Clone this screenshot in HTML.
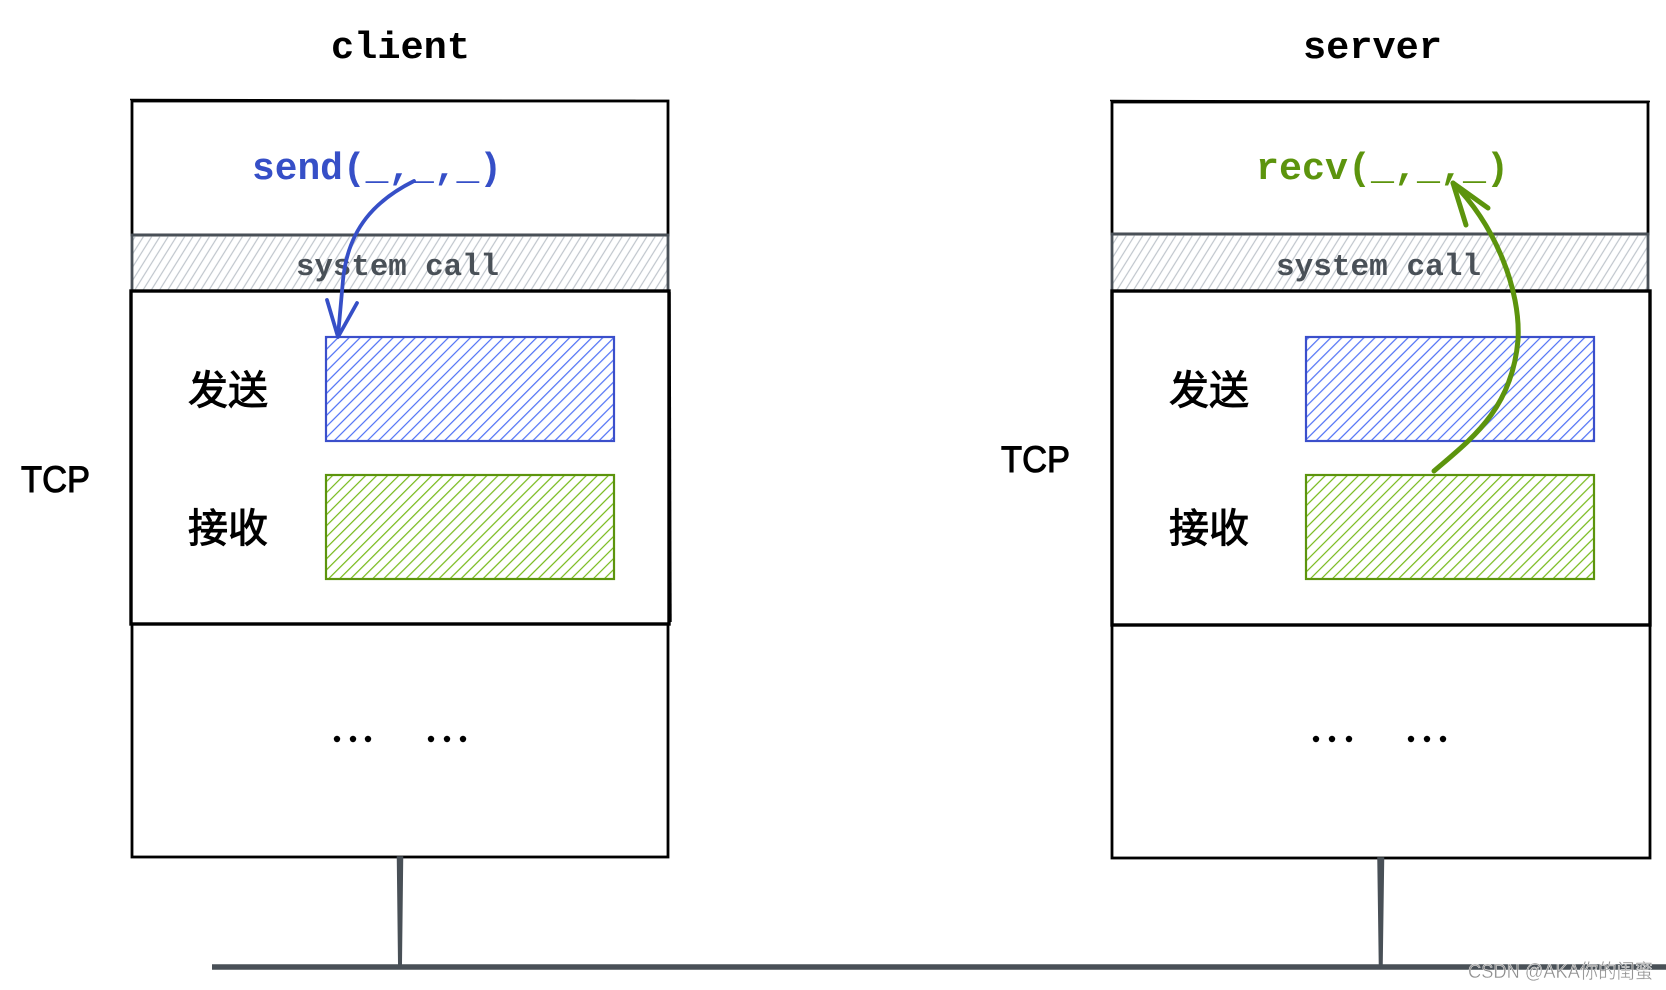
<!DOCTYPE html>
<html>
<head>
<meta charset="utf-8">
<style>
  html, body { margin: 0; padding: 0; background: #ffffff; }
  body { width: 1666px; height: 990px; overflow: hidden; }
  svg { display: block; }
  .mono { font-family: "Liberation Mono", "DejaVu Sans Mono", monospace; }
  .cjk { font-family: "Liberation Sans", "Noto Sans CJK SC", "WenQuanYi Zen Hei", sans-serif; }
</style>
</head>
<body>
<svg width="1666" height="990" viewBox="0 0 1666 990" xmlns="http://www.w3.org/2000/svg">
  <defs>
    <pattern id="blueHatch" patternUnits="userSpaceOnUse" width="7.8" height="10" patternTransform="rotate(45)">
      <line x1="2" y1="0" x2="2" y2="10" stroke="#4c6ef5" stroke-width="1.2"/>
    </pattern>
    <pattern id="greenHatch" patternUnits="userSpaceOnUse" width="7.8" height="10" patternTransform="rotate(45)">
      <line x1="2" y1="0" x2="2" y2="10" stroke="#74b816" stroke-width="1.2"/>
    </pattern>
    <pattern id="grayHatch" patternUnits="userSpaceOnUse" width="7" height="10" patternTransform="rotate(32)">
      <line x1="2" y1="0" x2="2" y2="10" stroke="#bfc5cc" stroke-width="1.2"/>
    </pattern>
  </defs>

  <rect x="0" y="0" width="1666" height="990" fill="#ffffff"/>

  <!-- Titles -->
  <text class="mono" x="331" y="58" font-size="38" font-weight="bold" fill="#000" textLength="139" lengthAdjust="spacingAndGlyphs">client</text>
  <text class="mono" x="1303" y="58" font-size="38" font-weight="bold" fill="#000" textLength="139" lengthAdjust="spacingAndGlyphs">server</text>

  <!-- ================= CLIENT ================= -->
  <rect x="132" y="101" width="536" height="134" fill="none" stroke="#000" stroke-width="2.8"/>
  <line x1="130" y1="99.5" x2="669" y2="100.5" stroke="#000" stroke-width="1.4"/>
  <rect x="132" y="235" width="536" height="56" fill="url(#grayHatch)" stroke="#495057" stroke-width="2.8"/>
  <text class="mono" x="296" y="275" font-size="31" font-weight="bold" fill="#495057" textLength="203" lengthAdjust="spacingAndGlyphs">system call</text>
  <rect x="131" y="291" width="538" height="333" fill="none" stroke="#000" stroke-width="3.4"/>
  <line x1="670" y1="292" x2="671" y2="622" stroke="#000" stroke-width="1.4"/>
  <rect x="132" y="624" width="536" height="233" fill="none" stroke="#000" stroke-width="2.8"/>

  <rect x="326" y="337" width="288" height="104" fill="url(#blueHatch)" stroke="#3b4fcb" stroke-width="2.2"/>
  <rect x="326" y="475" width="288" height="104" fill="url(#greenHatch)" stroke="#5c940d" stroke-width="2.2"/>

  <text class="cjk" x="188" y="404" font-size="40" fill="#000" stroke="#000" stroke-width="1" textLength="80" lengthAdjust="spacingAndGlyphs">发送</text>
  <text class="cjk" x="188" y="542" font-size="40" fill="#000" stroke="#000" stroke-width="1" textLength="80" lengthAdjust="spacingAndGlyphs">接收</text>

  <text class="cjk" x="21" y="492" font-size="37" fill="#000" stroke="#000" stroke-width="1" textLength="69" lengthAdjust="spacingAndGlyphs">TCP</text>

  <circle cx="337" cy="739" r="3.2" fill="#000"/>
  <circle cx="353" cy="739" r="3.2" fill="#000"/>
  <circle cx="368" cy="739" r="3.2" fill="#000"/>
  <circle cx="431" cy="739" r="3.2" fill="#000"/>
  <circle cx="447" cy="739" r="3.2" fill="#000"/>
  <circle cx="463" cy="739" r="3.2" fill="#000"/>

  <text class="mono" x="252" y="179" font-size="38" font-weight="bold" fill="#364fc7" textLength="250" lengthAdjust="spacingAndGlyphs">send(_,_,_)</text>

  <!-- blue arrow -->
  <path d="M414 181 C376 200, 348 228, 343 280 L338 336" fill="none" stroke="#364fc7" stroke-width="3.8" stroke-linecap="round"/>
  <path d="M327 300 L338 337 L357 303" fill="none" stroke="#364fc7" stroke-width="3.8" stroke-linecap="round" stroke-linejoin="round"/>

  <!-- ================= SERVER ================= -->
  <rect x="1112" y="102" width="536" height="132" fill="none" stroke="#000" stroke-width="2.8"/>
  <line x1="1110" y1="100.5" x2="1650" y2="101.5" stroke="#000" stroke-width="1.4"/>
  <rect x="1112" y="234" width="536" height="57" fill="url(#grayHatch)" stroke="#495057" stroke-width="2.8"/>
  <text class="mono" x="1276" y="275" font-size="31" font-weight="bold" fill="#495057" textLength="205" lengthAdjust="spacingAndGlyphs">system call</text>
  <rect x="1112" y="291" width="538" height="334" fill="none" stroke="#000" stroke-width="3.4"/>
  <rect x="1112" y="625" width="538" height="233" fill="none" stroke="#000" stroke-width="2.8"/>

  <rect x="1306" y="337" width="288" height="104" fill="url(#blueHatch)" stroke="#3b4fcb" stroke-width="2.2"/>
  <rect x="1306" y="475" width="288" height="104" fill="url(#greenHatch)" stroke="#5c940d" stroke-width="2.2"/>

  <text class="cjk" x="1169" y="404" font-size="40" fill="#000" stroke="#000" stroke-width="1" textLength="80" lengthAdjust="spacingAndGlyphs">发送</text>
  <text class="cjk" x="1169" y="542" font-size="40" fill="#000" stroke="#000" stroke-width="1" textLength="80" lengthAdjust="spacingAndGlyphs">接收</text>

  <text class="cjk" x="1001" y="472" font-size="37" fill="#000" stroke="#000" stroke-width="1" textLength="69" lengthAdjust="spacingAndGlyphs">TCP</text>

  <circle cx="1316" cy="739" r="3.2" fill="#000"/>
  <circle cx="1332" cy="739" r="3.2" fill="#000"/>
  <circle cx="1349" cy="739" r="3.2" fill="#000"/>
  <circle cx="1411" cy="739" r="3.2" fill="#000"/>
  <circle cx="1427" cy="739" r="3.2" fill="#000"/>
  <circle cx="1443" cy="739" r="3.2" fill="#000"/>

  <text class="mono" x="1256" y="179" font-size="38" font-weight="bold" fill="#5c940d" textLength="253" lengthAdjust="spacingAndGlyphs">recv(_,_,_)</text>

  <!-- green arrow -->
  <path d="M1434 471 C1470 440, 1512 410, 1518 340 C1521 290, 1495 225, 1453 183" fill="none" stroke="#5c940d" stroke-width="5" stroke-linecap="round"/>
  <path d="M1466 225 L1453 183 L1488 208" fill="none" stroke="#5c940d" stroke-width="5" stroke-linecap="round" stroke-linejoin="round"/>

  <!-- ================= NETWORK ================= -->
  <path d="M397.5 857 L402.5 857 L401.2 968 L398.8 968 Z" fill="#495057" stroke="#495057" stroke-width="1.5"/>
  <path d="M1378 858 L1383.5 858 L1382 966 L1379.5 966 Z" fill="#495057" stroke="#495057" stroke-width="1.5"/>
  <line x1="212" y1="967" x2="1666" y2="967" stroke="#495057" stroke-width="5.5"/>

  <!-- watermark -->
  <text x="1468" y="978" font-family="Liberation Sans, Noto Sans CJK SC, sans-serif" font-size="20" fill="#8e8e8e" stroke="#ffffff" stroke-width="0.4" textLength="185" lengthAdjust="spacingAndGlyphs">CSDN @AKA你的闺蜜</text>
</svg>
</body>
</html>
